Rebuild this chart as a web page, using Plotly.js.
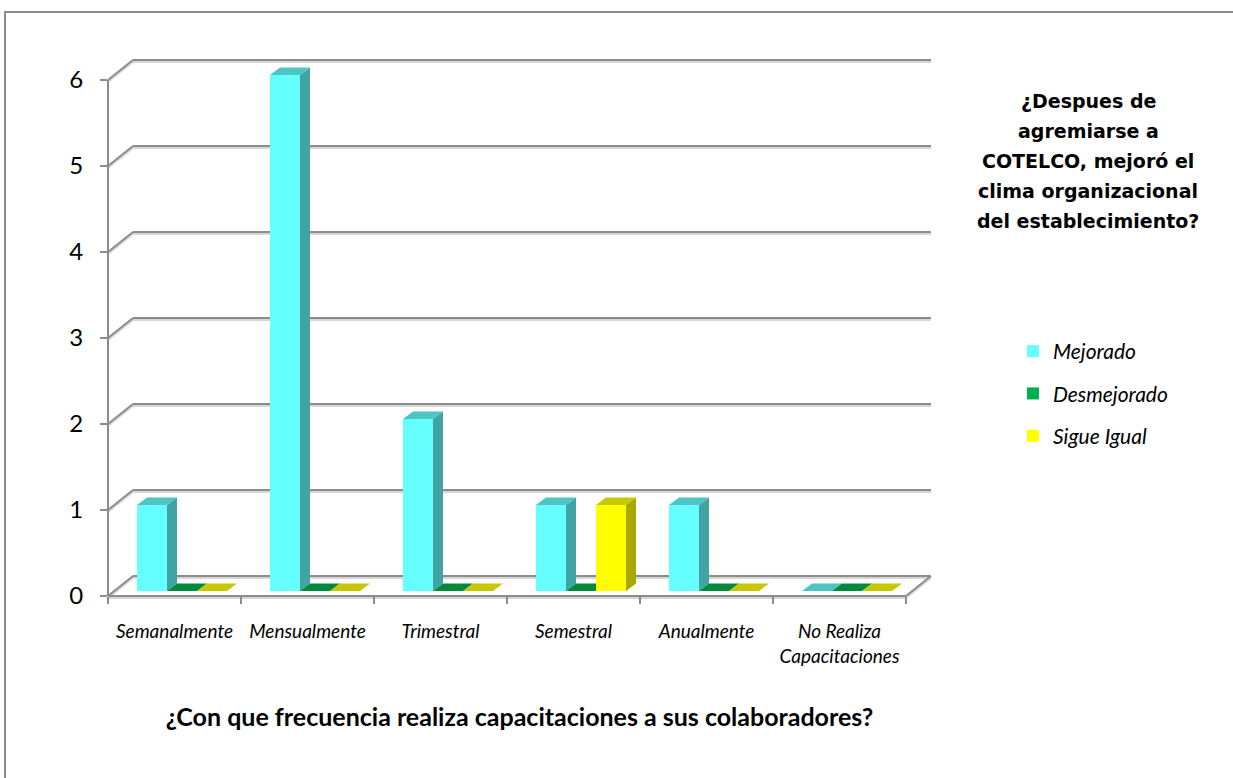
<!DOCTYPE html>
<html>
<head>
<meta charset="utf-8">
<script src="https://cdn.plot.ly/plotly-3.0.1.min.js"></script>
<style>html,body{margin:0;padding:0;background:#fff;}</style>
</head>
<body>
<div id="chart" style="width:1233px;height:778px;"></div>
<script>
// ---- data ----
const categories = ['Semanalmente', 'Mensualmente', 'Trimestral', 'Semestral', 'Anualmente', 'No Realiza Capacitaciones'];
const categoryLabels = ['Semanalmente', 'Mensualmente', 'Trimestral', 'Semestral', 'Anualmente', 'No Realiza<br>Capacitaciones'];
const seriesNames = ['Mejorado', 'Desmejorado', 'Sigue Igual'];
const mejorado = [1, 6, 2, 1, 1, 0];
const desmejorado = [0, 0, 0, 0, 0, 0];
const sigueIgual = [0, 0, 0, 1, 0, 0];
const yTicks = [0, 1, 2, 3, 4, 5, 6];
const legendTitleLines = ['¿Despues de', 'agremiarse a', 'COTELCO, mejoró el', 'clima organizacional', 'del establecimiento?'];
const xTitle = '¿Con que frecuencia realiza capacitaciones a sus colaboradores?';

// ---- styling / geometry ----
const W = 1233, H = 778;
const M = {l: 108, r: 302, t: 60, b: 182};
const plotW = W - M.l - M.r, plotH = H - M.t - M.b;
const pxPerCat = 133, pxPerUnit = 86;
const xMax = plotW / pxPerCat, yMax = plotH / pxPerUnit;
const depthX = 25 / pxPerCat, depthY = 20 / pxPerUnit;        // wall depth in data units
const barOff = 29 / pxPerCat, barW = 30 / pxPerCat, barBase = 5 / pxPerUnit;
const faceDX = 10 / pxPerCat, faceDY = 7.5 / pxPerUnit;
const gridColor = '#8c8c8c', shadowColor = '#d6d6d6';
const colors = [
  {front: '#66ffff', top: '#4fc4c4', side: '#41a4a4'},
  {front: '#00b050', top: '#008a3e', side: '#006e32'},
  {front: '#ffff00', top: '#c8c800', side: '#a8a800'}
];
const seriesValues = [mejorado, desmejorado, sigueIgual];
const idx = categories.map((c, i) => i);
const boundaries = categories.map((c, i) => i).concat([categories.length]);

const px = u => u / xMax;     // data -> paper
const py = v => v / yMax;

// ---- frame (3D walls) ----
const shapes = [];
function line(x0, y0, x1, y1) {
  shapes.push({type: 'line', xref: 'paper', yref: 'paper', layer: 'below',
    x0: px(x0), y0: py(y0) - 2 / plotH, x1: px(x1), y1: py(y1) - 2 / plotH,
    line: {color: shadowColor, width: 2}});
  shapes.push({type: 'line', xref: 'paper', yref: 'paper', layer: 'below',
    x0: px(x0), y0: py(y0), x1: px(x1), y1: py(y1),
    line: {color: gridColor, width: 2}});
}
const nC = categories.length;
yTicks.forEach(v => {
  line(0, v, depthX, v + depthY);
  line(depthX, v + depthY, nC + depthX, v + depthY);
});
line(0, 0, nC, 0);
line(nC, 0, nC + depthX, depthY);
shapes.push({type: 'line', xref: 'paper', yref: 'paper', layer: 'below',
  x0: 0, y0: 0, x1: 0, y1: py(yTicks[yTicks.length - 1]),
  line: {color: gridColor, width: 2}});

// ---- bar faces (top and side) ----
seriesValues.forEach((vals, k) => {
  vals.forEach((v, i) => {
    const L = i + barOff + k * barW, R = L + barW;
    const T = barBase + v, B = barBase;
    if (v > 0) {
      shapes.push({type: 'path', xref: 'x', yref: 'y', layer: 'below',
        path: `M${R},${B}L${R},${T}L${R + faceDX},${T + faceDY}L${R + faceDX},${B + faceDY}Z`,
        fillcolor: colors[k].side, line: {width: 0}});
    }
    shapes.push({type: 'path', xref: 'x', yref: 'y', layer: 'below',
      path: `M${L},${T}L${R},${T}L${R + faceDX},${T + faceDY}L${L + faceDX},${T + faceDY}Z`,
      fillcolor: colors[k].top, line: {width: 0}});
  });
});

// outer chart border
shapes.push({type: 'rect', xref: 'paper', yref: 'paper', layer: 'below',
  x0: (5 - M.l) / plotW, x1: (1250 - M.l) / plotW,
  y0: (H - M.b - 800) / plotH, y1: (H - M.b - 12) / plotH,
  line: {color: gridColor, width: 2}, fillcolor: 'rgba(0,0,0,0)'});

// ---- traces (front faces) ----
const traces = seriesValues.map((vals, k) => ({
  type: 'bar', name: seriesNames[k], x: idx, y: vals, base: barBase,
  offset: barOff + k * barW, width: barW,
  marker: {color: colors[k].front, line: {width: 0}},
  legendgroup: 'g' + k, hoverinfo: 'name+y'
}));

// ---- legend title (annotations) ----
const annotations = legendTitleLines.map((t, j) => ({
  text: t, xref: 'paper', yref: 'paper', showarrow: false,
  x: (1088 - M.l) / plotW, y: (H - M.b - (101 + 30 * j)) / plotH,
  xanchor: 'center', yanchor: 'middle',
  font: {family: 'DejaVu Sans, sans-serif', size: 19, weight: 'bold', color: '#000'}
}));

const layout = {
  width: W, height: H,
  margin: M,
  paper_bgcolor: '#ffffff', plot_bgcolor: 'rgba(0,0,0,0)',
  barmode: 'overlay',
  showlegend: true,
  legend: {
    x: (1013 - M.l) / plotW, y: (H - M.b - 331) / plotH, xanchor: 'left', yanchor: 'top',
    font: {family: 'Lato, sans-serif', size: 21, style: 'italic', color: '#000'},
    traceorder: 'grouped', tracegroupgap: 12, bgcolor: 'rgba(0,0,0,0)', borderwidth: 0
  },
  xaxis: {
    range: [0, xMax], autorange: false, fixedrange: true,
    tickmode: 'array', tickvals: idx.map(i => i + 0.5), ticktext: categoryLabels,
    ticks: '', showgrid: false, zeroline: false, showline: false,
    ticklabelstandoff: 22,
    tickfont: {family: 'Lato, sans-serif', size: 19, style: 'italic', color: '#000'},
    minor: {tickmode: 'array', tickvals: boundaries, ticks: 'outside', ticklen: 7, tickwidth: 2,
            tickcolor: gridColor, showgrid: false},
    title: {text: xTitle, standoff: 42,
            font: {family: 'Lato, sans-serif', size: 25, weight: 'bold', color: '#000'}}
  },
  yaxis: {
    range: [0, yMax], autorange: false, fixedrange: true,
    tickmode: 'array', tickvals: yTicks, ticktext: yTicks.map(String),
    ticks: 'outside', ticklen: 7, tickwidth: 2, tickcolor: gridColor,
    showgrid: false, zeroline: false, showline: false,
    ticklabelstandoff: 12,
    tickfont: {family: 'Lato, sans-serif', size: 24, color: '#000'}
  },
  shapes: shapes,
  annotations: annotations
};

Plotly.newPlot('chart', traces, layout, {displayModeBar: false, staticPlot: true});
</script>
</body>
</html>
